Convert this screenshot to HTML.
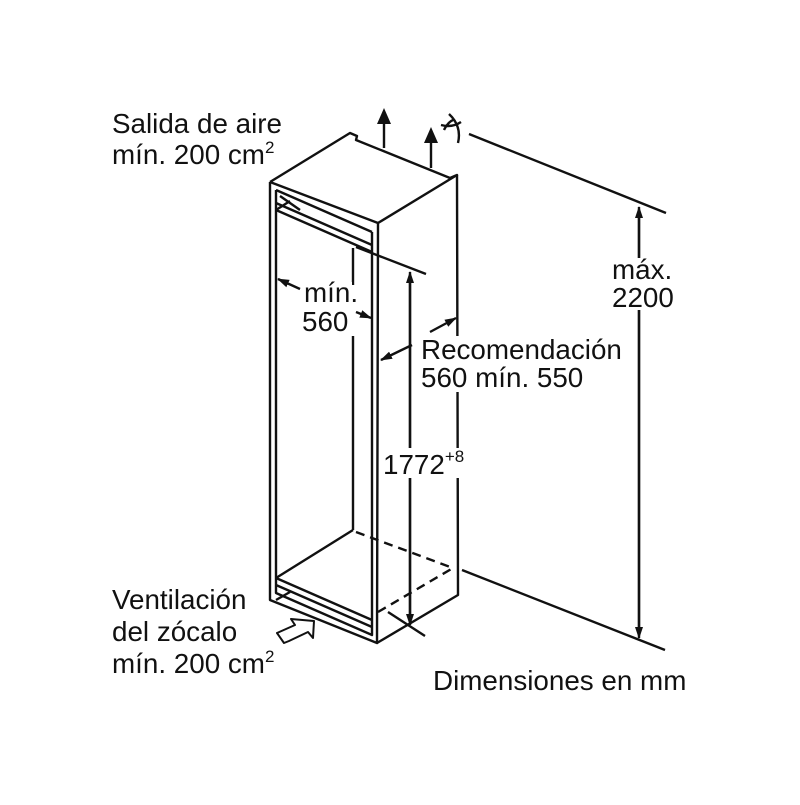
<!DOCTYPE html>
<html><head><meta charset="utf-8"><style>
body{margin:0;background:#fff}
svg text{font-family:"Liberation Sans",sans-serif;font-size:27.8px;fill:#111}
</style></head><body>
<svg width="800" height="800" viewBox="0 0 800 800" xmlns="http://www.w3.org/2000/svg">
<defs><marker id="a" markerWidth="12" markerHeight="10" refX="11" refY="5" orient="auto" markerUnits="userSpaceOnUse"><path d="M0,1 L12,5 L0,9z" fill="#111"/></marker></defs>
<g stroke="#111" stroke-width="2.4" fill="none" stroke-linejoin="round">
<path d="M270,182 L350,133 L357,136 L356,140 L450,178 L457,175 L378,223 L270,182"/>
<path d="M457,175 L458,595 L377,643"/>
<path d="M270,182 L270,600 L377,643 L378,223"/>
<path d="M276,190 L276,593 L372,635 L372,232"/>
<path d="M276,190 L372,232"/>
<path d="M276,203 L372,245 M276,210 L372,252"/>
<path d="M276,210 L290,201 M280,196 L300,210"/>
<path d="M353,248 L353,285 M353,336 L353,530"/>
<path d="M353,530 L276,578"/>
<path d="M276,578 L372,620 M276,585 L372,627"/>
<path d="M276,600 L290,592"/>
<path d="M356,532 L453,568 M378,612 L453,568" stroke-dasharray="9,6"/>
<path d="M356,247 L426,274 M388,612 L425,636"/>
<path d="M410,622 L410,272" marker-end="url(#a)"/>
<path d="M410,280 L410,625" marker-end="url(#a)"/>
<path d="M469,134 L666,213 M462,570 L665,650"/>
<path d="M639,630 L639,207" marker-end="url(#a)"/>
<path d="M639,215 L639,638" marker-end="url(#a)"/>
<path d="M300,289 L278,279" marker-end="url(#a)"/>
<path d="M356,312 L371,318" marker-end="url(#a)"/>
<path d="M412,345 L381,360" marker-end="url(#a)"/>
<path d="M430,332 L456,318" marker-end="url(#a)"/>
<path d="M384,148 L384,118 M431,168 L431,136"/>
<path d="M444,130 Q448,122 453,120 M441,125 Q452,128 461,122 M449,114 Q462,126 458,143"/>
<path d="M277,633 L295,625 L291,619 L314,621 L313,638 L308,632 L289,641 L284,643 Z" stroke-width="2"/>
</g>
<path d="M384,108 L377,124 L391,124Z M431,127 L424,143 L438,143Z" fill="#111"/>
<g fill="#fff">
<rect x="610" y="258" width="66" height="52"/>
<rect x="383" y="448" width="85" height="30"/>
<rect x="420" y="336" width="210" height="56"/>
<rect x="302" y="282" width="50" height="54"/>
</g>
<text x="112" y="133">Salida de aire</text>
<text x="112" y="164">mín. 200 cm<tspan font-size="17" dy="-11">2</tspan></text>
<text x="612" y="279">máx.</text>
<text x="612" y="307">2200</text>
<text x="304" y="302">mín.</text>
<text x="302" y="331">560</text>
<text x="421" y="359">Recomendación</text>
<text x="421" y="387">560 mín. 550</text>
<text x="383" y="474">1772<tspan font-size="17" dy="-12">+8</tspan></text>
<text x="112" y="609">Ventilación</text>
<text x="112" y="641">del zócalo</text>
<text x="112" y="673">mín. 200 cm<tspan font-size="17" dy="-11">2</tspan></text>
<text x="433" y="690">Dimensiones en mm</text>
</svg>
</body></html>
